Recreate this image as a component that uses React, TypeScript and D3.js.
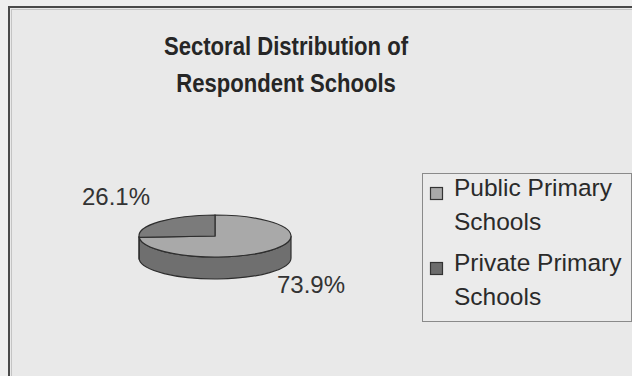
import React from "react";
import * as d3 from "d3";

const title = ["Sectoral Distribution of", "Respondent Schools"];
const categories = ["Public Primary Schools", "Private Primary Schools"];
const legendLines = [["Public Primary", "Schools"], ["Private Primary", "Schools"]];
const values = [73.9, 26.1];
const labels = ["73.9%", "26.1%"];
const topColors = ["#a9a9a9", "#7b7b7b"];
const sideColors = ["#6f6f6f", "#575757"];
const legendColors = ["#a9a9a9", "#6c6c6c"];

const W = 632, H = 376;
const cx = 215, cy = 236, rx = 76, ry = 21, depth = 22;
const FONT = "'Liberation Sans', Arial, sans-serif";

function pt(a: number, dy = 0): [number, number] {
  return [cx + rx * Math.sin(a), cy - ry * Math.cos(a) + dy];
}

export default function App() {
  const pie = d3.pie<number>().sort(null).value((d) => d).startAngle(0).endAngle(2 * Math.PI);
  const arcs = pie(values);

  const topPath = (a0: number, a1: number) => {
    const p0 = pt(a0), p1 = pt(a1);
    const large = a1 - a0 > Math.PI ? 1 : 0;
    return `M${cx},${cy} L${p0[0]},${p0[1]} A${rx},${ry} 0 ${large} 1 ${p1[0]},${p1[1]} Z`;
  };
  const sidePath = (a0: number, a1: number) => {
    const s = Math.max(a0, Math.PI / 2), e = Math.min(a1, (3 * Math.PI) / 2);
    if (e <= s) return null;
    const p0 = pt(s), p1 = pt(e), q1 = pt(e, depth), q0 = pt(s, depth);
    return `M${p0[0]},${p0[1]} A${rx},${ry} 0 0 1 ${p1[0]},${p1[1]} L${q1[0]},${q1[1]} A${rx},${ry} 0 0 0 ${q0[0]},${q0[1]} Z`;
  };

  const labelPos: [number, number][] = [[277, 293], [82, 205]];

  return (
    <svg width={W} height={H} style={{ position: "fixed", left: 0, top: 0 }} fontFamily={FONT}>
      <rect x={0} y={0} width={W} height={H} fill="#efefef" />
      <rect x={9} y={7} width={W + 10} height={H + 10} fill="#e9e9e9" stroke="#4a4a4a" strokeWidth={2} />
      <rect x={11.5} y={9.5} width={W} height={H} fill="none" stroke="#c4c4c4" strokeWidth={1} />
      {title.map((t, i) => (
        <text
          key={t}
          transform={`translate(286,${55 + i * 37}) scale(0.85,1)`}
          textAnchor="middle"
          fontSize={26}
          fontWeight="bold"
          fill="#262626"
        >
          {t}
        </text>
      ))}
      {arcs.map((a, i) => {
        const d = sidePath(a.startAngle, a.endAngle);
        return d ? <path key={"s" + i} d={d} fill={sideColors[i]} stroke="#2e2e2e" strokeWidth={1.2} /> : null;
      })}
      {arcs.map((a, i) => (
        <path key={"t" + i} d={topPath(a.startAngle, a.endAngle)} fill={topColors[i]} stroke="#2e2e2e" strokeWidth={1.2} />
      ))}
      {arcs.map((a, i) => (
        <text key={"l" + i} x={labelPos[i][0]} y={labelPos[i][1]} fontSize={24} fill="#333">
          {labels[i]}
        </text>
      ))}
      <rect x={422.5} y={173.5} width={209} height={148} fill="#ebebeb" stroke="#8a8a8a" strokeWidth={1} />
      {categories.map((c, i) => (
        <g key={c}>
          <rect x={430.5} y={187.5 + i * 75} width={12} height={12} fill={legendColors[i]} stroke="#333" strokeWidth={1.2} />
          {legendLines[i].map((l, j) => (
            <text key={j} x={454} y={196 + i * 75 + j * 34} fontSize={24.5} fill="#2a2a2a">
              {l}
            </text>
          ))}
        </g>
      ))}
    </svg>
  );
}
